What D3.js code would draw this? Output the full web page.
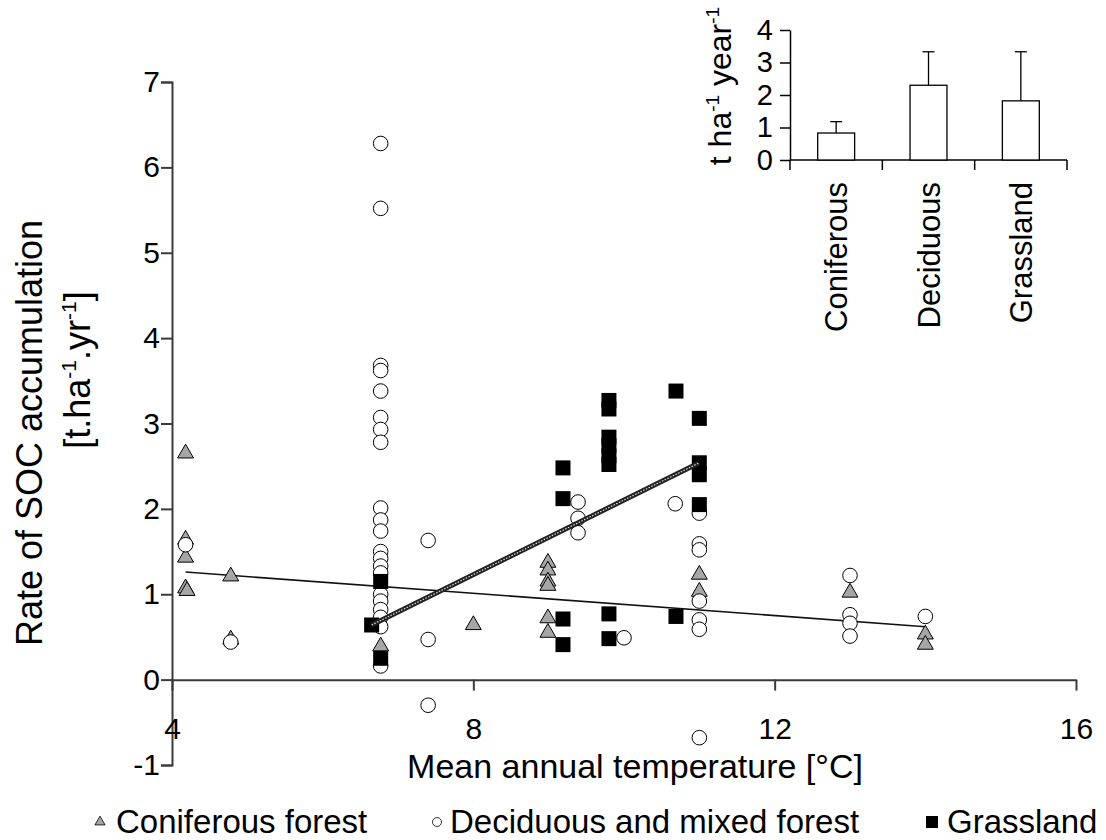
<!DOCTYPE html>
<html>
<head>
    <script type="text/javascript" src="https://d3js.org/d3.v7.min.js"></script>
    <style>
        body { margin: 0; background: #fff; }
        text { font-family: "Liberation Sans", Arial, sans-serif; fill: #000; }
    </style>
</head>
<body>
<script>

    // scatter points: [temperature, rate]
    var coniferous = [
        [4.18, 2.65], [4.18, 1.64], [4.18, 1.43], [4.18, 1.07], [4.2, 1.04],
        [4.78, 1.21], [4.78, 0.47], [6.77, 0.39], [8.0, 0.64],
        [8.99, 1.37], [8.99, 1.28], [8.99, 1.15], [8.99, 1.10], [8.99, 0.72], [8.99, 0.55],
        [11.0, 1.23], [11.0, 1.03], [13.0, 1.02], [14.0, 0.53], [14.0, 0.41]
    ]
    var deciduous = [
        [4.18, 1.58], [4.78, 0.44],
        [6.77, 6.28], [6.77, 5.52], [6.77, 3.68], [6.77, 3.62], [6.77, 3.38], [6.77, 3.07],
        [6.77, 2.93], [6.77, 2.78], [6.77, 2.01], [6.77, 1.87], [6.77, 1.74], [6.77, 1.50],
        [6.77, 1.42], [6.77, 1.33], [6.77, 1.25], [6.77, 1.0], [6.77, 0.92], [6.77, 0.82],
        [6.77, 0.73], [6.77, 0.62], [6.77, 0.16],
        [7.4, 1.63], [7.4, 0.47], [7.4, -0.30],
        [9.39, 2.08], [9.39, 1.89], [9.39, 1.72], [10.0, 0.49], [10.68, 2.06],
        [11.0, 1.95], [11.0, 1.59], [11.0, 1.52], [11.0, 0.92], [11.0, 0.70], [11.0, 0.59], [11.0, -0.68],
        [13.0, 1.22], [13.0, 0.76], [13.0, 0.66], [13.0, 0.51], [14.0, 0.74]
    ]
    var grassland = [
        [6.65, 0.64], [6.77, 1.15], [6.77, 0.25],
        [9.19, 2.48], [9.19, 2.12], [9.19, 0.71], [9.19, 0.41],
        [9.8, 3.27], [9.8, 3.17], [9.8, 2.84], [9.8, 2.74], [9.8, 2.62], [9.8, 2.52], [9.8, 0.77], [9.8, 0.48],
        [10.69, 3.38], [10.69, 0.74],
        [11.0, 3.06], [11.0, 2.54], [11.0, 2.40], [11.0, 2.05]
    ]

    // fitted trend lines (end points)
    var coniferousFit = [[4.18, 1.26], [14.0, 0.62]]
    var grasslandFit = [[6.65, 0.64], [11.0, 2.54]]

    var xTicks = [4, 8, 12, 16]
    var yTicks = [-1, 0, 1, 2, 3, 4, 5, 6, 7]

    // inset bar chart
    var insetCats = ["Coniferous", "Deciduous", "Grassland"]
    var insetMeans = [0.83, 2.3, 1.82]
    var insetErrTop = [1.18, 3.33, 3.33]
    var insetTicks = [0, 1, 2, 3, 4]

    var legendNames = ["Coniferous forest", "Deciduous and mixed forest", "Grassland"]

    var w = 1106, h = 840
    var svg = d3.select('body').append('svg')
        .attr('width', w).attr('height', h)

    var xscale = d3.scaleLinear().domain([4, 16]).range([172, 1076])
    var yscale = d3.scaleLinear().domain([-1, 7]).range([765, 82])

    var axisColor = "#3a3a3a"
    var fmt = d => d < 0 ? "-" + Math.abs(d) : String(d)

    // y axis
    var yAxis = svg.append("g")
        .attr("transform", "translate(" + xscale(4) + ",0)")
        .call(d3.axisLeft(yscale).tickValues(yTicks).tickSize(11).tickPadding(1).tickFormat(fmt))
    yAxis.select(".domain").attr("stroke", axisColor).attr("stroke-width", 2)
    yAxis.selectAll(".tick line").attr("stroke", axisColor).attr("stroke-width", 2)
    yAxis.selectAll(".tick text").attr("font-size", 30).attr("font-family", "Liberation Sans").attr("fill", "#000")

    // x axis at y = 0
    var xAxis = svg.append("g")
        .attr("transform", "translate(0," + yscale(0) + ")")
        .call(d3.axisBottom(xscale).tickValues(xTicks).tickSize(11).tickSizeOuter(0).tickPadding(27).tickFormat(fmt))
    xAxis.select(".domain").attr("stroke", axisColor).attr("stroke-width", 2)
    xAxis.selectAll(".tick line").attr("stroke", axisColor).attr("stroke-width", 2)
    xAxis.selectAll(".tick text").attr("font-size", 30).attr("font-family", "Liberation Sans").attr("fill", "#000")

    // axis titles
    svg.append("text")
        .attr("transform", "translate(42,433) rotate(-90)")
        .attr("text-anchor", "middle")
        .attr("font-size", 36)
        .text("Rate of SOC accumulation")

    var yt2 = svg.append("text")
        .attr("transform", "translate(90,370) rotate(-90)")
        .attr("text-anchor", "middle")
        .attr("font-size", 36)
    yt2.append("tspan").text("[t.ha")
    yt2.append("tspan").attr("dy", -14).attr("font-size", 21).text("-1")
    yt2.append("tspan").attr("dy", 14).text(".yr")
    yt2.append("tspan").attr("dy", -14).attr("font-size", 21).text("-1")
    yt2.append("tspan").attr("dy", 14).text("]")

    svg.append("text")
        .attr("x", 635).attr("y", 778)
        .attr("text-anchor", "middle")
        .attr("font-size", 34)
        .text("Mean annual temperature [°C]")

    // trend lines
    var line = d3.line().x(d => xscale(d[0])).y(d => yscale(d[1]))

    svg.append("path")
        .attr("d", line(coniferousFit))
        .attr("fill", "none")
        .attr("stroke", "#111")
        .attr("stroke-width", 1.6)

    // symbols
    var tri = d3.symbol().type(d3.symbolTriangle).size(110)

    svg.selectAll(".con").data(coniferous).enter().append("path")
        .attr("class", "con")
        .attr("d", tri)
        .attr("transform", d => "translate(" + xscale(d[0]) + "," + yscale(d[1]) + ")")
        .attr("fill", "#a6a6a6")
        .attr("stroke", "#000")
        .attr("stroke-width", 1)

    svg.selectAll(".dec").data(deciduous).enter().append("circle")
        .attr("class", "dec")
        .attr("cx", d => xscale(d[0]))
        .attr("cy", d => yscale(d[1]))
        .attr("r", 7.3)
        .attr("fill", "#fff")
        .attr("stroke", "#000")
        .attr("stroke-width", 1)

    svg.selectAll(".gra").data(grassland).enter().append("rect")
        .attr("class", "gra")
        .attr("x", d => xscale(d[0]) - 7.5)
        .attr("y", d => yscale(d[1]) - 7.5)
        .attr("width", 15)
        .attr("height", 15)
        .attr("fill", "#000")

    // hatched grassland trend line
    svg.append("path")
        .attr("d", line(grasslandFit))
        .attr("fill", "none")
        .attr("stroke", "#222")
        .attr("stroke-width", 5)
    svg.append("path")
        .attr("d", line(grasslandFit))
        .attr("fill", "none")
        .attr("stroke", "#ddd")
        .attr("stroke-width", 1.2)
        .attr("stroke-dasharray", "1.5,1.5")

    // legend
    var ly = 822
    svg.append("path")
        .attr("d", d3.symbol().type(d3.symbolTriangle).size(45))
        .attr("transform", "translate(100," + ly + ")")
        .attr("fill", "#a6a6a6").attr("stroke", "#000").attr("stroke-width", 0.8)
    svg.append("text").attr("x", 116).attr("y", ly + 11).attr("font-size", 33).text(legendNames[0])

    svg.append("circle")
        .attr("cx", 437).attr("cy", ly).attr("r", 4.5)
        .attr("fill", "#fff").attr("stroke", "#000").attr("stroke-width", 0.8)
    svg.append("text").attr("x", 450).attr("y", ly + 11).attr("font-size", 33).text(legendNames[1])

    svg.append("rect")
        .attr("x", 926).attr("y", ly - 6).attr("width", 12).attr("height", 12)
        .attr("fill", "#000")
    svg.append("text").attr("x", 947).attr("y", ly + 11).attr("font-size", 33).text(legendNames[2])

    // inset bar chart
    var ix = d3.scaleBand().domain(insetCats).range([790, 1067])
    var iy = d3.scaleLinear().domain([0, 4]).range([160, 30])
    var bw = ix.bandwidth() * 0.4

    var iyAxis = svg.append("g")
        .attr("transform", "translate(790,0)")
        .call(d3.axisLeft(iy).tickValues(insetTicks).tickSize(10).tickSizeOuter(0).tickPadding(7).tickFormat(fmt))
    iyAxis.select(".domain").attr("stroke", "#000").attr("stroke-width", 1.5)
    iyAxis.selectAll(".tick line").attr("stroke", "#000").attr("stroke-width", 1.5)
    iyAxis.selectAll(".tick text").attr("font-size", 29).attr("font-family", "Liberation Sans").attr("fill", "#000")

    var ixAxis = svg.append("g")
        .attr("transform", "translate(0,160)")
    ixAxis.append("line")
        .attr("x1", 790).attr("x2", 1067).attr("y1", 0).attr("y2", 0)
        .attr("stroke", "#000").attr("stroke-width", 1.5)
    ixAxis.selectAll(".itick").data(insetCats.concat(["end"])).enter().append("line")
        .attr("x1", (d, i) => i < 3 ? ix(d) : 1067)
        .attr("x2", (d, i) => i < 3 ? ix(d) : 1067)
        .attr("y1", 0).attr("y2", 10)
        .attr("stroke", "#000").attr("stroke-width", 1.5)

    svg.selectAll(".ibar").data(insetCats).enter().append("line")
        .attr("x1", d => ix(d) + ix.bandwidth() / 2)
        .attr("x2", d => ix(d) + ix.bandwidth() / 2)
        .attr("y1", (d, i) => iy(insetMeans[i]))
        .attr("y2", (d, i) => iy(insetErrTop[i]))
        .attr("stroke", "#000").attr("stroke-width", 1.3)
    svg.selectAll(".icap").data(insetCats).enter().append("line")
        .attr("x1", d => ix(d) + ix.bandwidth() / 2 - 6)
        .attr("x2", d => ix(d) + ix.bandwidth() / 2 + 6)
        .attr("y1", (d, i) => iy(insetErrTop[i]))
        .attr("y2", (d, i) => iy(insetErrTop[i]))
        .attr("stroke", "#000").attr("stroke-width", 1.3)

    svg.selectAll(".ibox").data(insetCats).enter().append("rect")
        .attr("x", d => ix(d) + (ix.bandwidth() - bw) / 2)
        .attr("y", (d, i) => iy(insetMeans[i]))
        .attr("width", bw)
        .attr("height", (d, i) => iy(0) - iy(insetMeans[i]))
        .attr("fill", "#fff").attr("stroke", "#000").attr("stroke-width", 1.3)

    svg.selectAll(".ilab").data(insetCats).enter().append("text")
        .attr("transform", d => "translate(" + (ix(d) + ix.bandwidth() / 2 + 11) + ",182) rotate(-90)")
        .attr("text-anchor", "end")
        .attr("font-size", 31)
        .text(d => d)

    var it = svg.append("text")
        .attr("transform", "translate(731,86) rotate(-90)")
        .attr("text-anchor", "middle")
        .attr("font-size", 32)
    it.append("tspan").text("t ha")
    it.append("tspan").attr("dy", -12).attr("font-size", 19).text("-1")
    it.append("tspan").attr("dy", 12).text(" year")
    it.append("tspan").attr("dy", -12).attr("font-size", 19).text("-1")

</script>
</body>
</html>
